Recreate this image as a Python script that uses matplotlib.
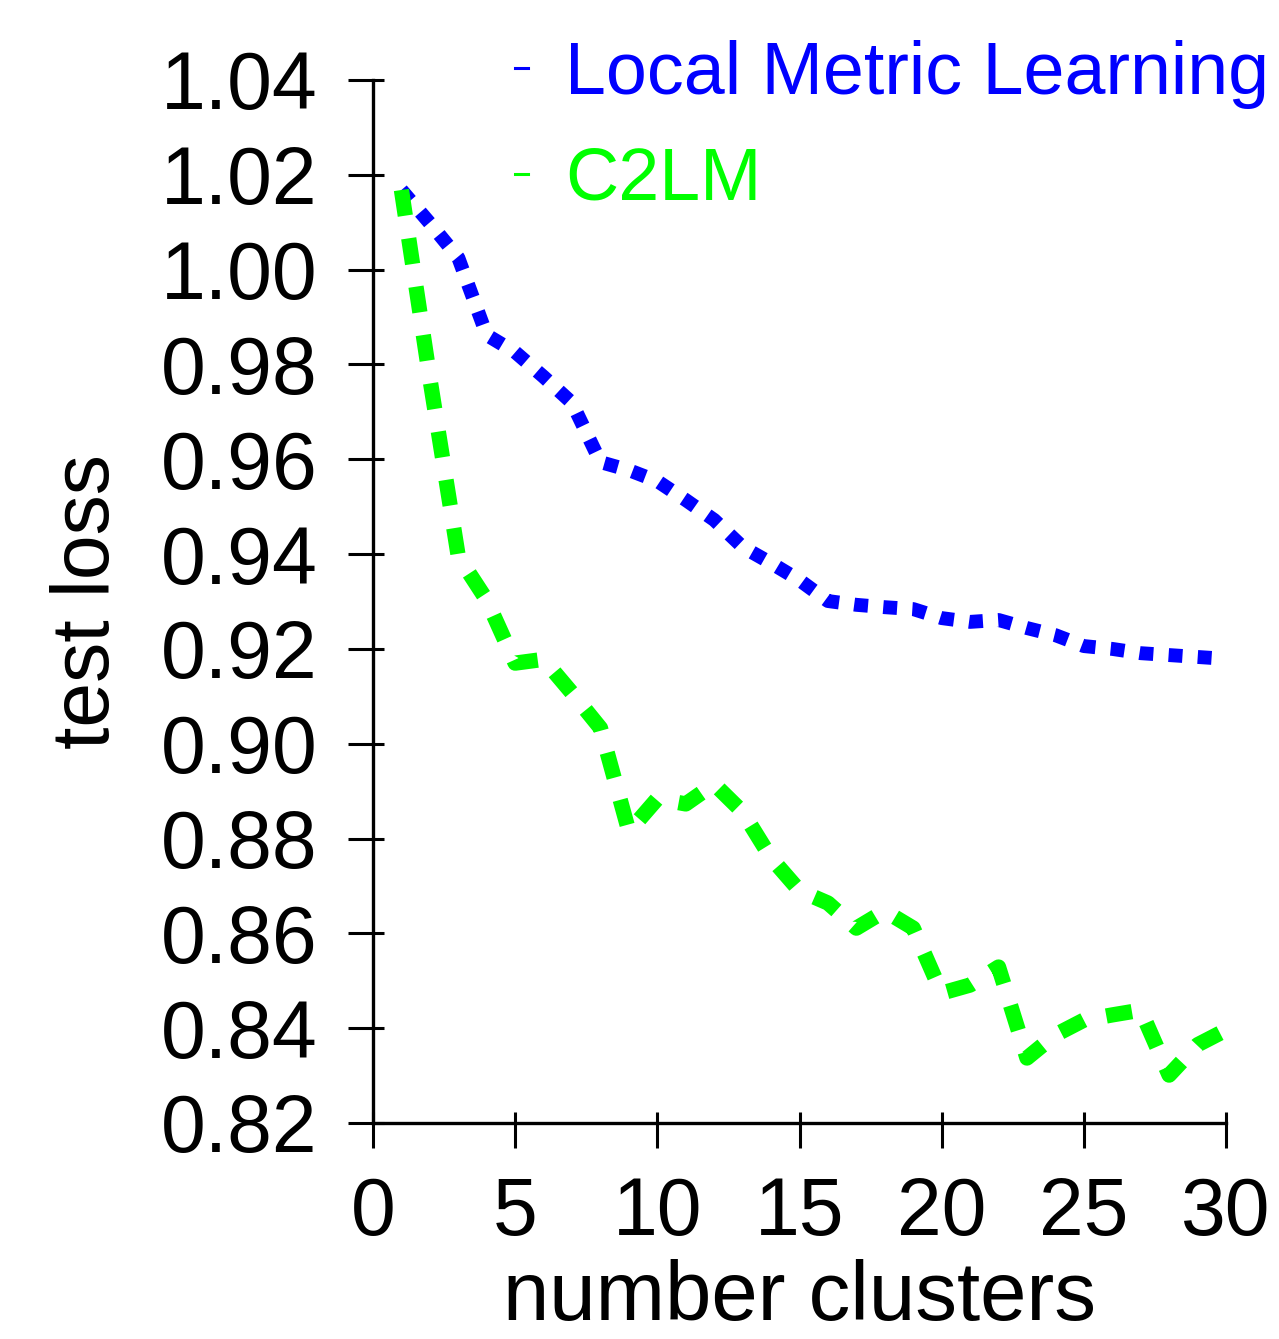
import matplotlib
matplotlib.use("Agg")
import matplotlib.pyplot as plt
from matplotlib.lines import Line2D
from matplotlib.ticker import MultipleLocator, FormatStrFormatter

plt.rcParams['font.family'] = ['Liberation Sans', 'DejaVu Sans']

# ---- data ----
clusters = list(range(1, 31))
lml_loss = [1.0168, 1.0098, 1.0025, 0.9862, 0.9826, 0.9774, 0.9719, 0.9594, 0.9577, 0.9554,
            0.9514, 0.9472, 0.9415, 0.9381, 0.9345, 0.9301, 0.9293, 0.9288, 0.9284, 0.9265,
            0.9257, 0.9261, 0.9244, 0.9229, 0.9206, 0.9200, 0.9191, 0.9187, 0.9183, 0.9179]
c2lm_loss = [1.0168, 0.9770, 0.9395, 0.9303, 0.9170, 0.9178, 0.9107, 0.9033, 0.8815, 0.8884,
             0.8873, 0.8915, 0.8856, 0.8759, 0.8690, 0.8664, 0.8611, 0.8647, 0.8611, 0.8474,
             0.8491, 0.8529, 0.8337, 0.8386, 0.8417, 0.8428, 0.8438, 0.8301, 0.8365, 0.8396]
series_names = ['Local Metric Learning', 'C2LM']
series_colors = ['#0000ff', '#00ff00']
xticks = [0, 5, 10, 15, 20, 25, 30]

W, H = 1279, 1339
fig = plt.figure(figsize=(W / 100, H / 100), dpi=100)
ax = fig.add_axes([373 / W, 1 - 1123 / H, 853 / W, 1043 / H])

ax.plot(clusters, lml_loss, color=series_colors[0], lw=10,
        linestyle=(0, (1, 1.1)), dash_capstyle='butt', solid_joinstyle='miter')
ax.plot(clusters, c2lm_loss, color=series_colors[1], lw=11,
        linestyle=(0, (1.7, 1.5)), dash_capstyle='butt', solid_joinstyle='miter')

ax.set_xlim(0, 30)
ax.set_ylim(0.82, 1.04)
ax.set_xticks(xticks)
ax.yaxis.set_major_locator(MultipleLocator(0.02))
ax.yaxis.set_major_formatter(FormatStrFormatter('%.2f'))
ax.set_xticks(xticks, minor=True)
ax.yaxis.set_minor_locator(MultipleLocator(0.02))
ax.xaxis.remove_overlapping_locs = False
ax.yaxis.remove_overlapping_locs = False

for s in ['top', 'right']:
    ax.spines[s].set_visible(False)
for s in ['left', 'bottom']:
    ax.spines[s].set_linewidth(2.4)

ax.tick_params(which='major', direction='out', length=18, width=2.2,
               labelsize=58, pad=20)
ax.tick_params(axis='y', which='major', pad=22)
ax.tick_params(which='minor', direction='in', length=8, width=2.2)

ax.set_xlabel('number clusters', fontsize=60)
ax.set_ylabel('test loss', fontsize=58)
ax.xaxis.set_label_coords(0.5, -0.130)
ax.yaxis.set_label_coords(-0.289, 0.5)

handles = [Line2D([], [], color=c, lw=2.2) for c in series_colors]
ax.legend(handles, series_names, loc='upper left',
          bbox_to_anchor=(515 / W, 1 - 40 / H), bbox_transform=fig.transFigure,
          frameon=False, fontsize=53, handlelength=0.18, handletextpad=0.5,
          labelspacing=0.5, borderpad=0, borderaxespad=0, labelcolor='linecolor')

fig.savefig('out.png', dpi=100)
